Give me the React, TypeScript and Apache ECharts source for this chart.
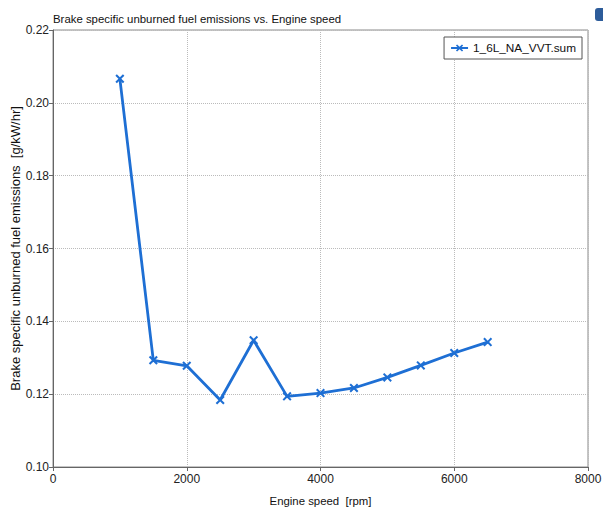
import React, { useEffect, useRef } from "react";
import * as echarts from "echarts";

const titleText = "Brake specific unburned fuel emissions vs. Engine speed";
const seriesName = "1_6L_NA_VVT.sum";
const xAxisName = "Engine speed  [rpm]";
const yAxisName = "Brake specific unburned fuel emissions  [g/kW/hr]";
const engineSpeed = [1000, 1500, 2000, 2500, 3000, 3500, 4000, 4500, 5000, 5500, 6000, 6500];
const emissions = [0.2066, 0.1293, 0.1278, 0.1184, 0.1348, 0.1194, 0.1203, 0.1217, 0.1246, 0.1279, 0.1313, 0.1343];

const FONT = "'Liberation Sans', Arial, sans-serif";
const BLUE = "#1e6fd4";
const X_SYMBOL =
  "path://M0,1.6 L1.6,0 L5,3.4 L8.4,0 L10,1.6 L6.6,5 L10,8.4 L8.4,10 L5,6.6 L1.6,10 L0,8.4 L3.4,5 Z";

export default function App() {
  const ref = useRef<HTMLDivElement>(null);
  useEffect(() => {
    if (!ref.current) return;
    const chart = echarts.init(ref.current, null, { renderer: "svg" });
    chart.setOption({
      animation: false,
      backgroundColor: "#ffffff",
      textStyle: { fontFamily: FONT },
      title: {
        text: titleText,
        left: 53,
        top: 13,
        padding: 0,
        textStyle: { fontSize: 11.4, fontWeight: "normal", color: "#111", fontFamily: FONT },
      },
      legend: {
        right: 21,
        top: 37,
        padding: [5, 6, 5, 6],
        borderColor: "#555",
        borderWidth: 1,
        backgroundColor: "#fff",
        itemWidth: 17,
        itemHeight: 9,
        itemGap: 6,
        textStyle: { fontSize: 11.8, color: "#111", fontFamily: FONT },
        data: [seriesName],
      },
      grid: {
        left: 53,
        right: 15,
        top: 30,
        bottom: 44,
        outerBoundsMode: "none",
        containLabel: false,
        show: true,
        borderColor: "#8a8a8a",
        borderWidth: 1,
      },
      xAxis: {
        type: "value",
        min: 0,
        max: 8000,
        interval: 2000,
        name: xAxisName,
        nameLocation: "middle",
        nameGap: 28,
        nameTextStyle: { fontSize: 11.4, color: "#111", fontFamily: FONT },
        axisLine: { show: true, onZero: false, lineStyle: { color: "#666", width: 1 } },
        axisTick: { show: true, length: 4, lineStyle: { color: "#666" } },
        axisLabel: {
          fontSize: 12,
          color: "#222",
          margin: 6,
          fontFamily: FONT,
          formatter: (v: number) => String(v),
        },
        splitLine: { show: true, lineStyle: { color: "#bbbbbb", type: "dotted", width: 1 } },
      },
      yAxis: {
        type: "value",
        min: 0.1,
        max: 0.22,
        interval: 0.02,
        name: yAxisName,
        nameLocation: "middle",
        nameGap: 31,
        nameMoveOverlap: false,
        nameTextStyle: { fontSize: 13, color: "#111", fontFamily: FONT },
        axisLine: { show: true, lineStyle: { color: "#666", width: 1 } },
        axisTick: { show: true, length: 4, lineStyle: { color: "#666" } },
        axisLabel: {
          fontSize: 12,
          color: "#222",
          margin: 4,
          fontFamily: FONT,
          formatter: (v: number) => v.toFixed(2),
        },
        splitLine: { show: true, lineStyle: { color: "#bbbbbb", type: "dotted", width: 1 } },
      },
      series: [
        {
          name: seriesName,
          type: "line",
          data: engineSpeed.map((x, i) => [x, emissions[i]]),
          symbol: X_SYMBOL,
          symbolSize: 9,
          lineStyle: { color: BLUE, width: 2.8 },
          itemStyle: { color: BLUE },
        },
      ],
      graphic: [
        {
          type: "rect",
          left: 595,
          top: 8,
          shape: { width: 14, height: 13, r: 3 },
          style: { fill: "#2d5c9a" },
        },
      ],
    });
    return () => chart.dispose();
  }, []);
  return (
    <div
      ref={ref}
      style={{ position: "absolute", left: 0, top: 0, width: 603, height: 511 }}
    />
  );
}
